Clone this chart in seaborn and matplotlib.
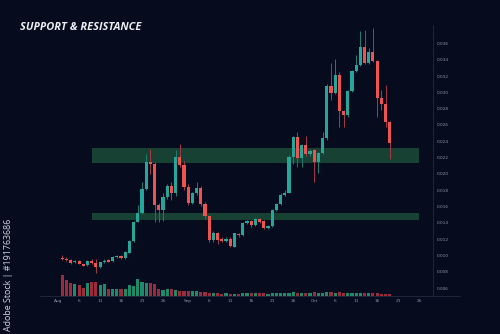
import numpy as np
import pandas as pd
import matplotlib
matplotlib.use("Agg")
import matplotlib.pyplot as plt
import seaborn as sns
from matplotlib.lines import Line2D
from matplotlib.ticker import FormatStrFormatter

# ---------------- data ----------------
dates = pd.date_range("2023-08-02", periods=79, freq="D")

opens = [0.00972, 0.00956, 0.00944, 0.00915, 0.00928, 0.00894, 0.00879, 0.00931, 0.00903, 0.00861,
         0.00915, 0.00940, 0.00928, 0.00977, 0.00993, 0.00964, 0.01033, 0.01180, 0.01414, 0.01524,
         0.01811, 0.02146, 0.02121, 0.01618, 0.01557, 0.01720, 0.01855, 0.01769, 0.02211, 0.02109,
         0.01836, 0.01647, 0.01762, 0.01823, 0.01631, 0.01483, 0.01189, 0.01271, 0.01201, 0.01180,
         0.01201, 0.01107, 0.01263, 0.01250, 0.01394, 0.01422, 0.01369, 0.01447, 0.01422, 0.01340,
         0.01361, 0.01557, 0.01627, 0.01741, 0.01769, 0.02204, 0.02456, 0.02191, 0.02355, 0.02241,
         0.02293, 0.02150, 0.02253, 0.02437, 0.03079, 0.02996, 0.03214, 0.02772, 0.02723, 0.03021,
         0.03266, 0.03336, 0.03553, 0.03364, 0.03499, 0.03389, 0.02928, 0.02854, 0.02641]

closes = [0.00952, 0.00944, 0.00911, 0.00928, 0.00894, 0.00874, 0.00931, 0.00907, 0.00858, 0.00915,
          0.00935, 0.00923, 0.00980, 0.00996, 0.00964, 0.01042, 0.01180, 0.01414, 0.01517, 0.01811,
          0.02146, 0.02121, 0.01618, 0.01557, 0.01720, 0.01855, 0.01769, 0.02211, 0.02109, 0.01836,
          0.01647, 0.01762, 0.01823, 0.01631, 0.01483, 0.01189, 0.01271, 0.01189, 0.01180, 0.01201,
          0.01115, 0.01271, 0.01250, 0.01394, 0.01422, 0.01369, 0.01447, 0.01414, 0.01340, 0.01361,
          0.01557, 0.01627, 0.01741, 0.01769, 0.02211, 0.02456, 0.02191, 0.02355, 0.02241, 0.02285,
          0.02150, 0.02253, 0.02437, 0.03079, 0.02996, 0.03214, 0.02772, 0.02723, 0.03021, 0.03266,
          0.03336, 0.03553, 0.03364, 0.03499, 0.03389, 0.02928, 0.02854, 0.02641, 0.02375]

highs = [0.0100, 0.0098, 0.0096, 0.0094, 0.0094, 0.0090, 0.0094, 0.0096, 0.0095, 0.0092,
         0.0095, 0.0095, 0.0099, 0.0101, 0.0100, 0.0105, 0.0119, 0.0142, 0.0162, 0.0190,
         0.0224, 0.0230, 0.0214, 0.0164, 0.0176, 0.0188, 0.0190, 0.0229, 0.0237, 0.0216,
         0.0187, 0.0178, 0.0190, 0.0185, 0.0165, 0.0150, 0.0130, 0.0129, 0.0122, 0.0122,
         0.0122, 0.0128, 0.0128, 0.0141, 0.0143, 0.0143, 0.0146, 0.0146, 0.0143, 0.0137,
         0.0157, 0.0164, 0.0176, 0.0180, 0.0223, 0.0247, 0.0251, 0.0237, 0.0247, 0.0230,
         0.0231, 0.0227, 0.0251, 0.0310, 0.0336, 0.0341, 0.0325, 0.0279, 0.0303, 0.0328,
         0.0346, 0.0375, 0.0377, 0.0355, 0.0379, 0.0340, 0.0303, 0.0309, 0.0265]

lows = [0.0094, 0.0093, 0.0090, 0.0091, 0.0089, 0.0087, 0.0087, 0.0090, 0.0079, 0.0085,
        0.0091, 0.0092, 0.0092, 0.0097, 0.0096, 0.0096, 0.0103, 0.0117, 0.0141, 0.0151,
        0.0180, 0.0200, 0.0141, 0.0141, 0.0142, 0.0169, 0.0168, 0.0173, 0.0208, 0.0180,
        0.0162, 0.0163, 0.0174, 0.0160, 0.0145, 0.0117, 0.0117, 0.0114, 0.0117, 0.0117,
        0.0110, 0.0110, 0.0123, 0.0124, 0.0138, 0.0135, 0.0136, 0.0140, 0.0132, 0.0133,
        0.0135, 0.0155, 0.0162, 0.0173, 0.0176, 0.0212, 0.0209, 0.0209, 0.0222, 0.0222,
        0.0190, 0.0201, 0.0224, 0.0242, 0.0291, 0.0298, 0.0258, 0.0258, 0.0270, 0.0301,
        0.0325, 0.0332, 0.0335, 0.0335, 0.0337, 0.0270, 0.0278, 0.0258, 0.0218]

volumes = [2100, 1570, 1330, 1170, 1070, 830, 1300, 1400, 1400, 1070,
           1230, 670, 730, 730, 670, 730, 1070, 970, 1730, 1400,
           1300, 1300, 1230, 730, 570, 730, 730, 570, 500, 470,
           470, 500, 470, 370, 370, 330, 270, 270, 230, 270,
           230, 200, 230, 330, 270, 300, 270, 300, 270, 230,
           300, 300, 270, 270, 330, 370, 330, 300, 330, 270,
           370, 300, 330, 430, 400, 330, 400, 300, 300, 300,
           330, 330, 300, 270, 300, 270, 230, 200, 170]

tick_dates = ["2023-08-01", "2023-08-06", "2023-08-11", "2023-08-16", "2023-08-21", "2023-08-26",
              "2023-09-01", "2023-09-06", "2023-09-11", "2023-09-16", "2023-09-21", "2023-09-26",
              "2023-10-01", "2023-10-06", "2023-10-11", "2023-10-16", "2023-10-21", "2023-10-26"]
tick_labels = ["Aug", "6", "11", "16", "21", "26", "Sep", "6", "11", "16", "21", "26",
               "Oct", "6", "11", "16", "21", "26"]
price_ticks = [0.006, 0.008, 0.010, 0.012, 0.014, 0.016, 0.018, 0.020,
               0.022, 0.024, 0.026, 0.028, 0.030, 0.032, 0.034, 0.036]

resistance_zone = (0.02134, 0.02318)
support_zone = (0.01435, 0.01520)
zone_dates = ("2023-08-09", "2023-10-26")

# ---------------- build table ----------------
origin = pd.Timestamp("2023-08-01")
df = pd.DataFrame({"date": dates, "open": opens, "close": closes,
                   "high": highs, "low": lows, "volume": volumes})
df["day"] = (df["date"] - origin).dt.days
df["dir"] = np.where(df["close"] >= df["open"], "up", "down")
tick_pos = [(pd.Timestamp(d) - origin).days for d in tick_dates]
zx = [(pd.Timestamp(d) - origin).days for d in zone_dates]

# ---------------- style ----------------
BG = "#070b1e"
UP = "#26a69a"
DOWN = "#ef5350"
UP_W = "#1f7f70"
DOWN_W = "#a63a45"
VOL_UP = "#1d8a6c"
VOL_DOWN = "#9c2b3d"
LINE = "#232a3d"
TXT = "#8d93a3"

sns.set_theme(style="dark")
plt.rcParams["font.family"] = ["DejaVu Sans"]
plt.rcParams["patch.edgecolor"] = "none"

fig = plt.figure(figsize=(5.0, 3.34), dpi=100, facecolor=BG)
ax = fig.add_axes([0.08, 0.1138, 0.786, 0.8114])
ax.set_facecolor(BG)

# volume on a twin axis
ax2 = ax.twinx()
sns.barplot(data=df, x="day", y="volume", hue="dir",
            palette={"up": VOL_UP, "down": VOL_DOWN},
            native_scale=True, dodge=False, width=0.72, errorbar=None,
            saturation=1, legend=False, ax=ax2, linewidth=0, edgecolor="none")
ax2.set_ylim(0, 27100)
ax2.set_yticks([])
ax2.set_ylabel("")
ax2.set_xlabel("")
for s in ax2.spines.values():
    s.set_visible(False)

# zones
for lo, hi in (resistance_zone, support_zone):
    ax.fill_between(zx, lo, hi, color="#1e5a3c", alpha=0.7, lw=0, zorder=1)

# candles
colors = np.where(df["dir"] == "up", UP, DOWN)
wcolors = np.where(df["dir"] == "up", UP_W, DOWN_W)
ax.vlines(df["day"], df["low"], df["high"], colors=wcolors, lw=0.7, zorder=2)
body_lo = np.minimum(df["open"], df["close"])
body_h = np.maximum(np.abs(df["close"] - df["open"]), 0.00012)
ax.bar(df["day"], body_h, bottom=body_lo, width=0.72, color=colors,
       lw=0, edgecolor="none", zorder=3)

ax.set_xlim(-4.29, 89.29)
ax.set_ylim(0.00502, 0.03827)
ax2.set_xlim(-4.29, 89.29)

ax.yaxis.tick_right()
ax.set_yticks(price_ticks)
ax.yaxis.set_major_formatter(FormatStrFormatter("%.3f"))
ax.set_xticks(tick_pos)
ax.set_xticklabels(tick_labels)
ax.tick_params(axis="y", length=0, pad=3, labelsize=3.1, labelcolor=TXT,
               left=False, right=False, labelleft=False, labelright=True)
ax.tick_params(axis="x", length=0, pad=2, labelsize=3.1, labelcolor=TXT)
ax.grid(False)
ax2.grid(False)
ax.set_xlabel("")
ax.set_ylabel("")
for k in ("left", "top"):
    ax.spines[k].set_visible(False)
for k in ("right", "bottom"):
    ax.spines[k].set_visible(True)
    ax.spines[k].set_color(LINE)
    ax.spines[k].set_linewidth(0.6)

# bottom line extends beyond the price axis
fig.add_artist(Line2D([0.866, 0.92], [0.1138, 0.1138], color=LINE, lw=0.6,
                      transform=fig.transFigure))

fig.text(0.04, 0.919, "SUPPORT & RESISTANCE", color="#eceef2", fontsize=7.95,
         fontweight="bold", fontstyle="italic", family=["Open Sans", "DejaVu Sans"],
         ha="left", va="center")
fig.text(0.017, 0.008, "Adobe Stock | #191763686", color="#d3d6de", fontsize=6.4,
         rotation=90, ha="center", va="bottom", family=["Open Sans", "DejaVu Sans"])

fig.savefig("out.png", dpi=100, facecolor=BG)
